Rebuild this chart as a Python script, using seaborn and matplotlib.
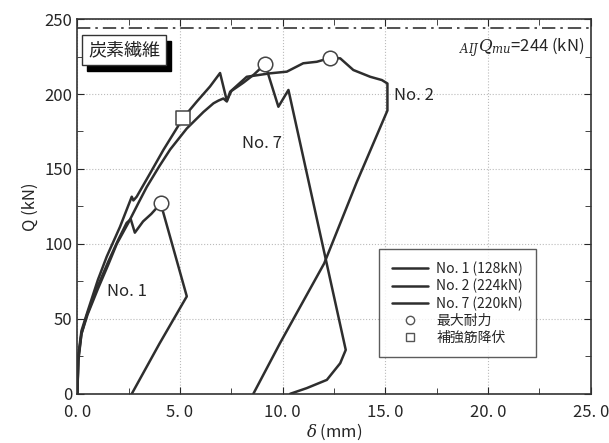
import numpy as np
import pandas as pd
import matplotlib
matplotlib.use('Agg')
import matplotlib.pyplot as plt
import seaborn as sns
from matplotlib.lines import Line2D
from matplotlib.patches import Rectangle
from matplotlib.ticker import MultipleLocator, FuncFormatter

sns.set_style('ticks')
plt.rcParams['font.family'] = ['Noto Sans CJK JP', 'DejaVu Sans']
plt.rcParams['mathtext.fontset'] = 'dejavuserif'

# Data (delta in mm, Q in kN)
no1_d = [0, 0.05, 0.2, 0.45, 1.0, 1.5, 2.0, 2.4, 2.6, 2.8, 3.2, 3.6, 4.06, 5.33, 4.0, 2.65]
no1_q = [0, 22, 40, 52, 72, 88, 103, 114, 116.5, 107.5, 115, 120, 127, 65, 33.5, 0]

no2_d = [0, 0.05, 0.2, 0.5, 1.0, 1.5, 1.92, 2.48, 3.0, 3.38, 4.0, 4.52, 5.33, 6.14, 6.63,
         6.87, 7.11, 7.28, 7.44, 8.25, 9.39, 10.2, 11.0, 11.66, 12.31, 12.8, 13.44, 14.26,
         14.83, 15.1, 15.1, 13.6, 12.02, 9.87, 8.57]
no2_q = [0, 24, 40, 53, 70, 86, 100, 114, 128, 138, 152, 163, 177, 188, 193.8,
         195.6, 197, 195, 201.5, 211.5, 213.8, 214.9, 220.5, 221.5, 224, 223.8, 216, 211.5,
         209.3, 207, 189, 141, 87, 33.8, 0]

no7_d = [0, 0.05, 0.2, 0.5, 1.0, 1.43, 2.08, 2.65, 2.73, 2.89, 3.54, 4.19, 5.16, 5.82, 6.46,
         6.95, 7.28, 7.5, 8.08, 8.6, 9.14, 9.79, 10.28, 13.07, 12.8, 12.15, 11.17, 10.36]
no7_q = [0, 26, 42, 55, 76, 91.5, 111.5, 131.5, 129, 131.5, 147, 162.7, 184.2, 195, 205,
         214, 195.5, 202, 207.5, 213, 220, 191.5, 202.7, 29.3, 20.4, 9.3, 3.8, 0]

peak_d = [4.06, 12.31, 9.14]
peak_q = [127, 224, 220]
yield_d = [5.16]
yield_q = [184.2]

series_labels = ['No. 1 (128kN)', 'No. 2 (224kN)', 'No. 7 (220kN)']
q_aij = 244

line_col = '#2e2e2e'

fig, ax = plt.subplots(figsize=(6.09, 4.43), dpi=100)
fig.subplots_adjust(left=0.127, right=0.970, bottom=0.111, top=0.957)

for d, q in [(no1_d, no1_q), (no2_d, no2_q), (no7_d, no7_q)]:
    sns.lineplot(x=d, y=q, sort=False, estimator=None, color=line_col, lw=1.8, ax=ax)

ax.axhline(q_aij, color='#333333', lw=1.2, ls=(0, (8, 3, 1.5, 3)))

sns.scatterplot(x=peak_d, y=peak_q, s=110, color='white', edgecolor='#444444',
                linewidth=1.1, zorder=5, ax=ax)
sns.scatterplot(x=yield_d, y=yield_q, marker='s', s=90, color='white', edgecolor='#444444',
                linewidth=1.1, zorder=5, ax=ax)

ax.set_xlim(0, 25)
ax.set_ylim(0, 250)
ax.xaxis.set_major_locator(MultipleLocator(5))
ax.xaxis.set_minor_locator(MultipleLocator(2.5))
ax.yaxis.set_major_locator(MultipleLocator(50))
ax.yaxis.set_minor_locator(MultipleLocator(25))
ax.xaxis.set_major_formatter(FuncFormatter(lambda v, p: f'{v:.1f}'.replace('.', '. ')))
ax.tick_params(which='both', direction='in', top=True, right=True, labelsize=12)
ax.tick_params(which='major', length=5)
ax.tick_params(which='minor', length=4)
ax.tick_params(axis='x', pad=7.5)
ax.grid(True, which='major', color='#bbbbbb', ls=':', lw=0.8)
for sp in ax.spines.values():
    sp.set_color('#333333')
    sp.set_linewidth(1.2)

ax.set_xlabel(r'$\delta$ (mm)', fontsize=12, labelpad=0)
ax.set_ylabel('Q (kN)', fontsize=12)

ax.text(2.4, 68, 'No. 1', fontsize=12, ha='center', va='center')
ax.text(8.98, 167, 'No. 7', fontsize=12, ha='center', va='center')
ax.text(16.4, 199, 'No. 2', fontsize=12, ha='center', va='center')
ax.text(24.7, 231, r'$_{AIJ}Q_{mu}$=244 (kN)', fontsize=12, ha='right', va='center')

# title box with drop shadow
ax.add_patch(Rectangle((0.47, 215.5), 4.1, 20, facecolor='black', edgecolor='black', zorder=6))
ax.add_patch(Rectangle((0.23, 219.3), 4.1, 20, facecolor='white', edgecolor='#333333',
                       lw=1.0, zorder=7))
ax.text(2.28, 229.3, '炭素繊維', fontsize=13, ha='center', va='center', color='#222222', zorder=8)

handles = [Line2D([], [], color=line_col, lw=1.8) for _ in series_labels]
handles += [Line2D([], [], ls='none', marker='o', mfc='white', mec='#555555', ms=6),
            Line2D([], [], ls='none', marker='s', mfc='white', mec='#555555', ms=6)]
labels = series_labels + ['最大耐力', '補強筋降伏']
leg = ax.legend(handles, labels, loc='lower left', bbox_to_anchor=(0.575, 0.08),
                fontsize=10, frameon=True, fancybox=False, edgecolor='#333333',
                handlelength=2.6, labelspacing=0.2, borderpad=0.9, handletextpad=0.6)
leg.get_frame().set_linewidth(1.0)

plt.savefig('out.png', dpi=100)
